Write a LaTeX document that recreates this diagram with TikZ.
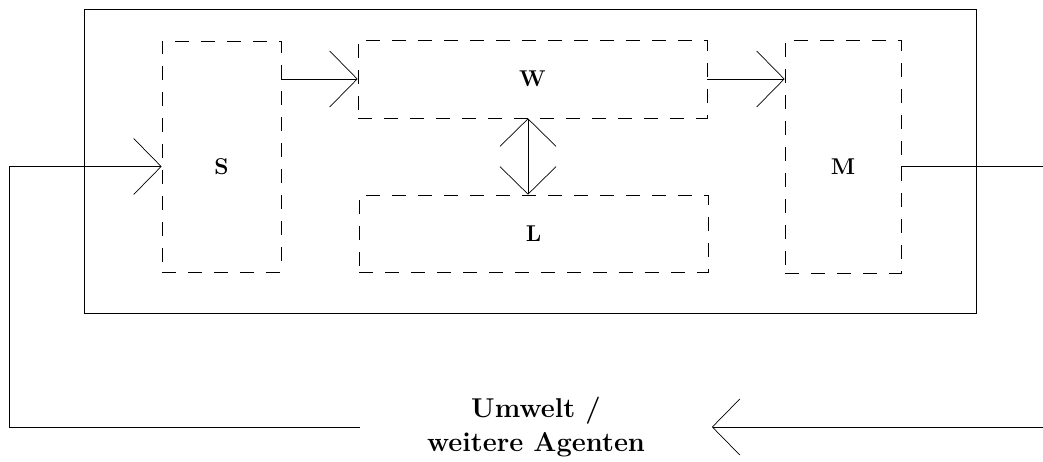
\documentclass[tikz,border=0pt]{standalone}
\usepackage{tikz}
\usetikzlibrary{calc}
\usetikzlibrary{arrows.meta}
\tikzset{
  spitze/.tip={Straight Barb[length=0.55cm,width=1.12cm]},
  pfeil/.style={-spitze},
  doppelpfeil/.style={spitze-spitze},
  modul/.style={draw, dash pattern=on 0.28cm off 0.24cm, inner sep=0pt, font=\fontsize{13}{16}\selectfont\bfseries},
  tief/.style={text height=0.8cm, text depth=0.08cm},
}
\newcommand{\baustein}[7]{\node[modul, #7, minimum width=#4, minimum height=#5] (#1) at ( #2 , #3 ) {#6};}

\begin{document}
\begin{tikzpicture}[x=0.02cm,y=-0.02cm]
        \useasboundingbox (0,0) rectangle (1043,462);
        \clip (0,0) rectangle (1043,462);
        % agent
        \draw (84,9) rectangle (976,313);
        % modules
        \baustein{S}{221.5}{156.5}{2.38cm}{4.62cm}{S}{tief}
        \baustein{W}{532.5}{79}{6.98cm}{1.56cm}{W}{}
        \baustein{L}{533.5}{233.5}{6.98cm}{1.54cm}{L}{}
        \baustein{M}{843}{156.5}{2.32cm}{4.66cm}{M}{tief}
        % environment
        \node[font=\fontsize{15.5}{19}\selectfont\bfseries, align=center, minimum width=7.02cm, inner sep=0pt] (U) at (536,427) {Umwelt /\\weitere Agenten};
        % arrows inside the agent
        \draw[pfeil] (S.east |- W.west) -- (W.west);
        \draw[pfeil] (W.east) -- (M.west |- W.east);
        \draw[doppelpfeil] ([xshift=-0.09cm]W.south) -- ([xshift=-0.09cm]W.south |- L.north);
        % loop through the environment
        \draw[pfeil] (U.west) -- ++(-351,0) |- ([yshift=-0.2cm]S.west);
        \draw[pfeil] ([yshift=-0.2cm]M.east) -- ++(200,0) |- (U.east);
\end{tikzpicture}
\end{document}
